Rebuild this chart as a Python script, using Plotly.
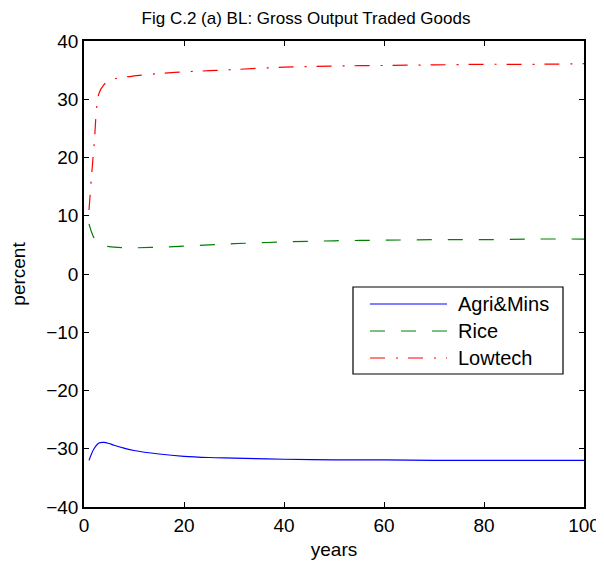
import plotly.graph_objects as go

years = [1, 2, 3, 4, 5, 6, 8, 10, 15, 20, 25, 30, 40, 50, 60, 70, 80, 90, 100]
agri = [-32.0, -30.0, -29.0, -28.9, -29.1, -29.4, -29.9, -30.3, -30.9, -31.3, -31.5, -31.6, -31.8, -31.9, -31.9, -32.0, -32.0, -32.0, -32.0]
rice = [8.6, 6.2, 5.2, 4.9, 4.7, 4.6, 4.5, 4.5, 4.6, 4.8, 5.0, 5.2, 5.5, 5.7, 5.8, 5.9, 5.9, 6.0, 6.0]
lowtech = [11.0, 22.0, 31.0, 32.5, 33.2, 33.5, 33.8, 34.0, 34.4, 34.7, 34.9, 35.1, 35.5, 35.7, 35.8, 35.9, 36.0, 36.0, 36.1]

series = [
    ("Agri&Mins", agri, "#0000ff", "solid"),
    ("Rice", rice, "#008000", "15px,16px"),
    ("Lowtech", lowtech, "#ff0000", "15px,11px,2px,10px"),
]

fig = go.Figure()
for name, vals, color, dash in series:
    fig.add_trace(go.Scatter(x=years, y=vals, mode="lines", name=name, showlegend=False,
                             line=dict(color=color, width=1.2, dash=dash, shape="spline")))

# MATLAB-style legend box (long line samples), drawn in paper coords
fig.add_shape(type="rect", xref="paper", yref="paper", x0=0.538, x1=0.958, y0=0.2854, y1=0.4721,
              line=dict(color="black", width=1.2), fillcolor="white", layer="above")
row_y = [0.4356, 0.3777, 0.3197]
for (name, _, color, dash), yy in zip(series, row_y):
    fig.add_shape(type="line", xref="paper", yref="paper", x0=0.572, x1=0.726, y0=yy, y1=yy,
                  line=dict(color=color, width=1.2, dash=dash), layer="above")
    fig.add_annotation(text=name, xref="paper", yref="paper", x=0.744, y=yy,
                       xanchor="left", yanchor="middle", showarrow=False,
                       font=dict(size=20, color="black"))

axis_common = dict(showline=True, linecolor="black", linewidth=1.5, mirror="ticks",
                   ticks="inside", ticklen=5, tickcolor="black", showgrid=False,
                   zeroline=False, automargin=False, tickfont=dict(size=19, color="black"))

fig.update_layout(
    width=596, height=557,
    margin=dict(l=76, r=20, t=33, b=58),
    plot_bgcolor="white", paper_bgcolor="white",
    font=dict(family="Liberation Sans, Arial, sans-serif", color="black"),
    title=dict(text="Fig C.2 (a) BL: Gross Output Traded Goods", x=0.5, xanchor="center",
               xref="container", y=0.982, yanchor="middle", font=dict(size=17)),
    xaxis=dict(range=[0, 100], tickvals=[0, 20, 40, 60, 80, 100],
               title=dict(text="years", font=dict(size=19), standoff=8), **axis_common),
    yaxis=dict(range=[-40, 40], tickvals=list(range(-40, 41, 10)),
               title=dict(text="percent", font=dict(size=19), standoff=24), **axis_common),
    showlegend=False,
)

fig.write_html("out.html")
